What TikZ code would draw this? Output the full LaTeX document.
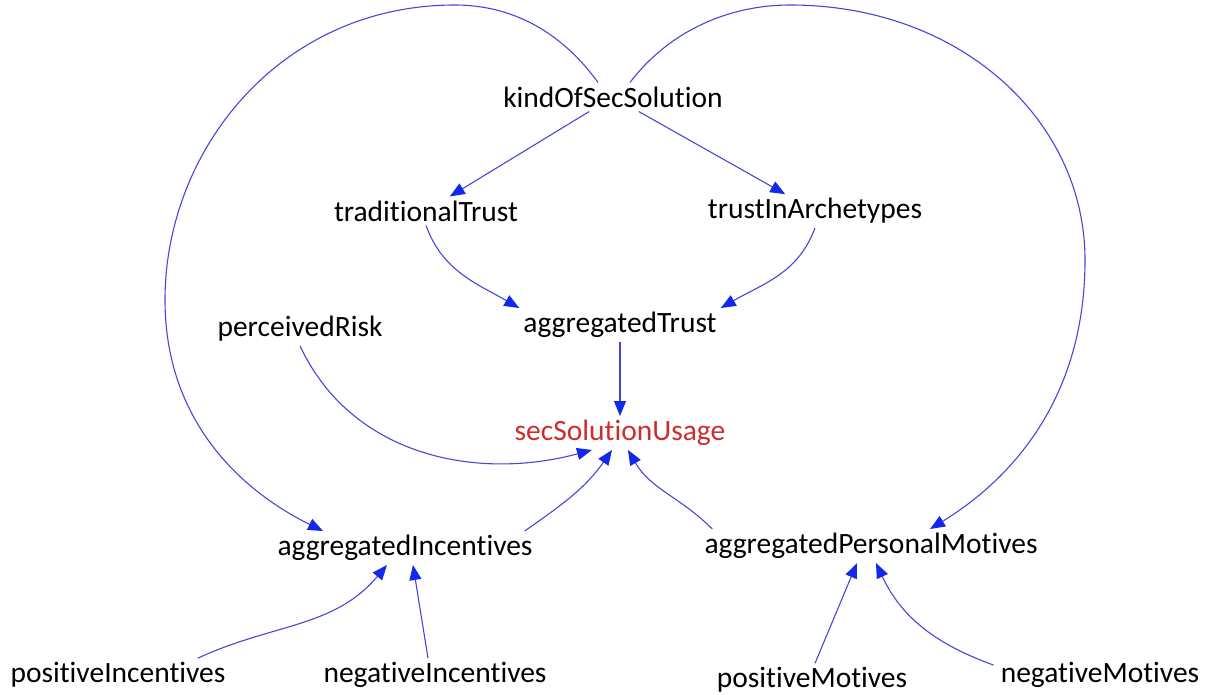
\documentclass[tikz,border=0pt]{standalone}
\usepackage{fontspec}
\setmainfont[Ligatures=NoCommon]{Carlito}
\usetikzlibrary{arrows.meta}
\definecolor{linkblue}{RGB}{70,70,220}
\definecolor{tipblue}{RGB}{20,40,235}
\definecolor{goalred}{RGB}{205,45,45}

\begin{document}
\begin{tikzpicture}[x=1pt,y=1pt,
    var/.style={inner sep=4pt,font=\fontsize{29.5}{34}\selectfont},
    link/.style={draw=linkblue,line width=1.1pt,
        -{Triangle[length=15pt,width=12pt,color=tipblue,fill=tipblue]}}]
\useasboundingbox (0,0) rectangle (1217,-695);

    \node[var] (K) at (613, -97) {kindOfSecSolution};
    \node[var] (TT) at (426, -211) {traditionalTrust};
    \node[var] (TA) at (815, -211) {trustInArchetypes};
    \node[var] (PR) at (300, -329) {perceivedRisk};
    \node[var] (AT) at (620, -325) {aggregatedTrust};
    \node[var,text=goalred] (SU) at (620, -433) {secSolutionUsage};
    \node[var] (AI) at (405, -548) {aggregatedIncentives};
    \node[var] (APM) at (871, -546) {aggregatedPersonalMotives};
    \node[var] (PI) at (118, -675) {positiveIncentives};
    \node[var] (NI) at (435, -675) {negativeIncentives};
    \node[var] (PM) at (812, -680) {positiveMotives};
    \node[var] (NM) at (1100, -675) {negativeMotives};

    \draw[link] (K) -- (TT);
    \draw[link] (K) -- (TA);
    \draw[link] (TT.south) to[out=-70, in=150] (AT.north west);
    \draw[link] (TA.south) to[out=-110, in=30] (AT.north east);
    \draw[link] (AT) -- (SU);

    \draw[link] (PR.south) to[out=-65, in=195] ([xshift=-28pt]SU.south);
    \draw[link] ([xshift=-12pt]AI.north east) to[out=35, in=235] ([xshift=-8pt]SU.south);
    \draw[link] ([xshift=12pt]APM.north west) to[out=135, in=-60] ([xshift=8pt]SU.south);

    % big loops round the top
    \draw[link] ([xshift=-15pt]K.north) .. controls (560,-30) and (510,-5) .. (455,-5)
        .. controls (280,-5) and (165,-150) .. (165,-300)
        .. controls (165,-420) and (240,-490) .. ([xshift=-82pt]AI.north);
    \draw[link] ([xshift=17pt]K.north) .. controls (670,-30) and (730,-5) .. (790,-5)
        .. controls (960,-5) and (1085,-120) .. (1085,-260)
        .. controls (1085,-400) and (1010,-480) .. ([xshift=59pt]APM.north);

    \draw[link] ([xshift=-32pt]PI.north east) to[out=25, in=230] ([xshift=-18pt]AI.south);
    \draw[link] ([xshift=-7pt]NI.north) -- ([xshift=8pt]AI.south);
    \draw[link] ([xshift=3pt]PM.north) -- ([xshift=-14pt]APM.south);
    \draw[link] ([xshift=-3pt,yshift=-7pt]NM.north west) to[out=160, in=295] ([xshift=5pt]APM.south);
\end{tikzpicture}
\end{document}
